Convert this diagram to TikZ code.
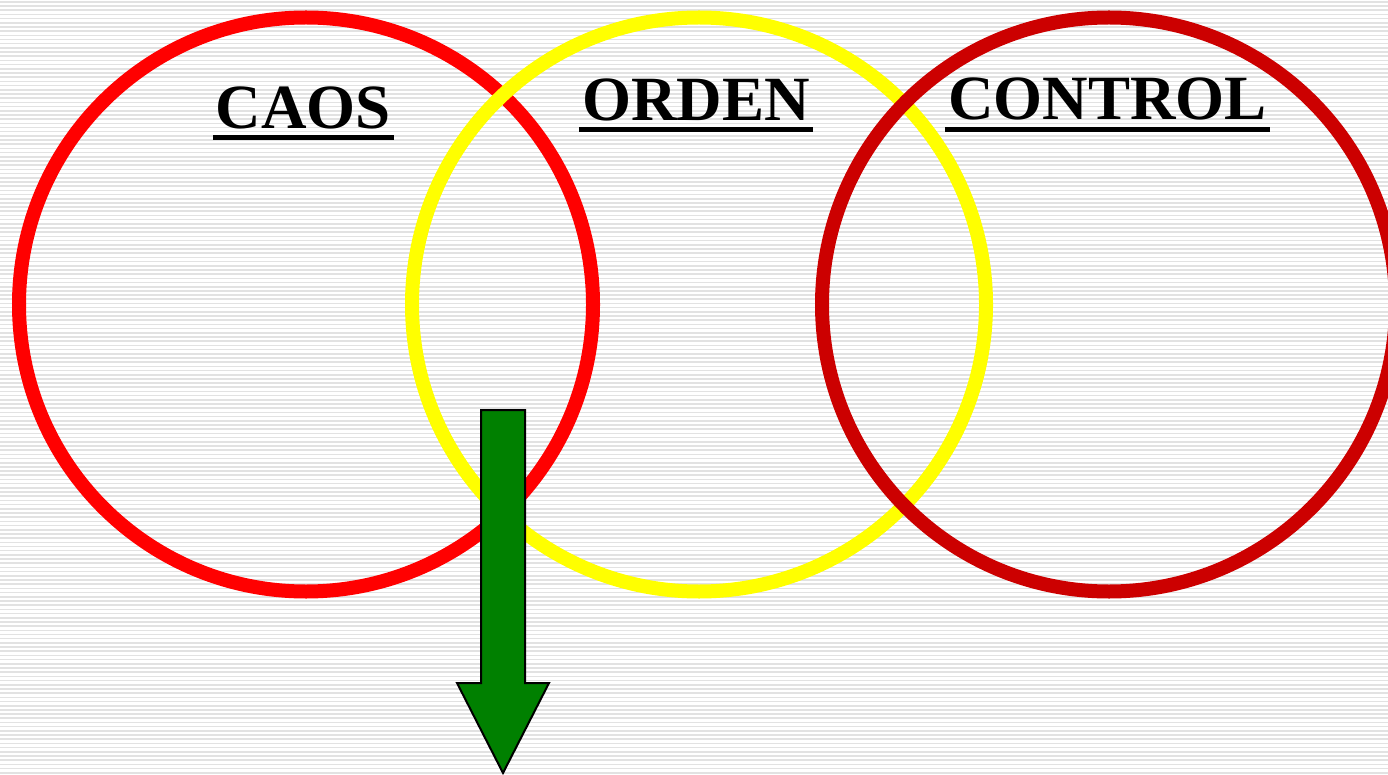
\documentclass[tikz,border=0pt]{standalone}
\usepackage{fontspec}
\setmainfont{Liberation Serif}
\definecolor{ringred}{RGB}{255,0,0}
\definecolor{ringyellow}{RGB}{255,255,0}
\definecolor{ringdark}{RGB}{204,0,0}
\definecolor{arrowgreen}{RGB}{0,128,0}
\definecolor{stripe}{RGB}{226,226,226}
\begin{document}
\begin{tikzpicture}[x=1pt,y=-1pt,
  ring/.style={line width=14pt},
  title/.style={font=\fontsize{63}{63}\selectfont\bfseries, inner sep=0pt, anchor=base},
  uline/.style={line width=5pt},
  bigarrow/.style={fill=arrowgreen, draw=black, line width=2pt, line join=miter}]
\useasboundingbox (0,0) rectangle (1388,775);
\fill[white] (0,0) rectangle (1388,775);
\foreach \i in {0,...,185} {
  \fill[stripe] (0,{\i*4.19+1}) rectangle (1388,{\i*4.19+2.6});
}
% circles
\draw[ring, ringred] (306,304.5) circle (287);
\draw[ring, ringyellow] (699,304.5) circle (287);
\draw[ring, ringdark] (1109,304.5) circle (287);
% titles
\node[title] (caos) at (303.5,129) {CAOS};
\node[title] (orden) at (696,121) {ORDEN};
\node[title] (control) at (1107.5,120) {CONTROL};
\draw[uline] ([xshift=-3pt,yshift=-9pt]caos.base west) -- ([xshift=3pt,yshift=-9pt]caos.base east);
\draw[uline] ([xshift=-3pt,yshift=-9pt]orden.base west) -- ([xshift=3pt,yshift=-9pt]orden.base east);
\draw[uline] ([xshift=-3pt,yshift=-10pt]control.base west) -- ([xshift=3pt,yshift=-10pt]control.base east);
% arrow
\draw[bigarrow] (481,410) -- (525,410) -- (525,683) -- (549,683) -- (503,773) -- (457,683) -- (481,683) -- cycle;
\end{tikzpicture}
\end{document}
